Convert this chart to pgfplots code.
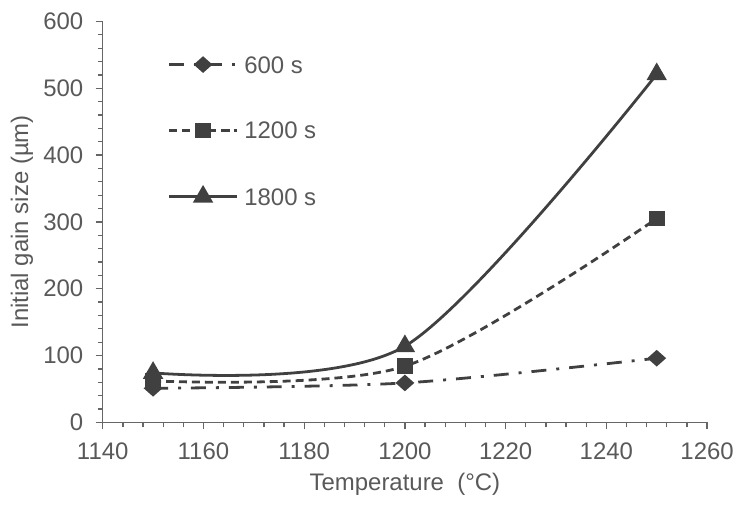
\documentclass[border=0pt]{standalone}
\usepackage{fontspec}
\setmainfont{Liberation Sans}
\usepackage{pgfplots}
\pgfplotsset{compat=1.18}
\definecolor{txtgray}{HTML}{595959}
\definecolor{axgray}{HTML}{666666}
\definecolor{lnk}{HTML}{404040}

\begin{document}
\begin{tikzpicture}[font=\fontsize{24bp}{28bp}\selectfont]
  \begin{axis}[
    at={(0,0)}, anchor=south west,
    scale only axis, width=606bp, height=402bp,
    xmin=1140, xmax=1260, ymin=0, ymax=600,
    xtick distance=20, ytick distance=100,
    minor x tick num=4, minor y tick num=4,
    axis x line*=bottom, axis y line*=left,
    axis line style={axgray, line width=1.3bp},
    tick style={axgray, line width=1.3bp},
    tick align=outside,
    major tick length=7bp, minor tick length=5bp,
    /pgf/number format/1000 sep={},
    /pgf/number format/assume math mode=true,
    tick label style={txtgray, font=\fontsize{24bp}{28bp}\selectfont},
    xticklabel style={yshift=-10bp},
    yticklabel style={xshift=-9bp},
    label style={txtgray, font=\fontsize{24bp}{28bp}\selectfont},
    xlabel={Temperature~~(°C)},
    ylabel={Initial gain size (µm)},
    xlabel style={at={(axis description cs:0.5,0)}, anchor=center, yshift=-62bp},
    ylabel style={at={(axis description cs:0,0.5)}, anchor=center, yshift=81bp},
    legend cell align=left,
    legend style={draw=none, fill=none, at={(axis description cs:0.1073,0.7276)},
      anchor=west, inner sep=0pt, row sep=49bp, column sep=6bp,
      nodes={inner sep=0pt, text height=17bp, text depth=0pt, txtgray,
             font=\fontsize{24bp}{28bp}\selectfont}},
    legend image code/.code={\draw[mark repeat=2,mark phase=2,#1]
      plot coordinates {(0bp,0bp) (34bp,0bp) (68bp,0bp)};},
  ]
    \addplot[lnk, line width=2.8bp, smooth,
             dash pattern=on 15bp off 10bp on 3bp off 10bp,
             mark=diamond*, mark size=6.5bp,
             mark options={solid, fill=lnk, xscale=1.5}]
      coordinates {(1150,51) (1200,59) (1250,96)};
    \addplot[lnk, line width=2.8bp, smooth,
             dash pattern=on 8bp off 5bp,
             mark=square*, mark size=6.5bp,
             mark options={solid, fill=lnk}]
      coordinates {(1150,62) (1200,84) (1250,305)};
    \addplot[lnk, line width=2.8bp, smooth,
             mark=triangle*, mark size=9bp,
             mark options={solid, fill=lnk}]
      coordinates {(1150,74) (1200,114) (1250,521)};
    \legend{600 s,1200 s,1800 s}
  \end{axis}
  \path (-103bp,-82.5bp) rectangle (634bp,423.5bp);
\end{tikzpicture}
\end{document}
